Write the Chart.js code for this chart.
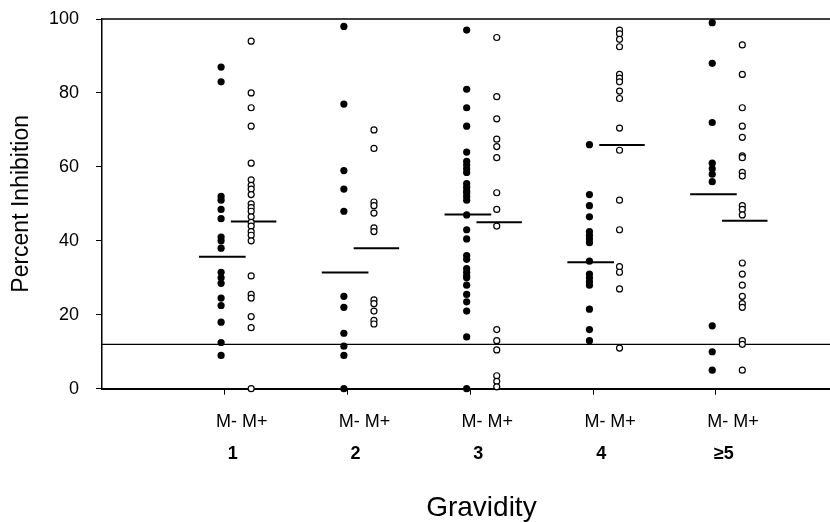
<!DOCTYPE html>
<html lang="en">
<head>
    <meta charset="UTF-8">
    <title>Percent Inhibition by Gravidity</title>
    <script src="https://cdn.jsdelivr.net/npm/chart.js"></script>
    <style>
        html, body {
            margin: 0;
            padding: 0;
            background: #fff;
            overflow: hidden;
        }
        #chart {
            display: block;
        }
    </style>
</head>
<body>
    <canvas id="chart" width="866" height="522"></canvas>

    <script>
        const gravidity = ['1', '2', '3', '4', '≥5'];
        const pairLabel = 'M- M+';

        // M- (filled) values per gravidity group
        const minus1 = [87, 83, 52, 51, 48.5, 46, 41, 40, 38, 31.5, 30, 28.5, 24.5, 22.5, 18, 12.5, 9];
        const minus2 = [98, 77, 59, 54, 48, 25, 22, 15, 11.5, 9, 0];
        const minus3 = [97, 81, 76, 71, 64, 61.5, 60.5, 59.5, 58.5, 55.5, 54.5, 53.5, 53, 52, 51, 47, 43, 40.5, 36, 35, 32.5, 31.5, 30.5, 30, 28, 25.5, 23.5, 21, 14, 0];
        const minus4 = [66, 52.5, 49.5, 46.5, 42.5, 41.5, 40.5, 39.5, 34.5, 31, 30, 29, 28, 21.5, 16, 13];
        const minus5 = [99, 88, 72, 61, 59.5, 58, 56, 17, 10, 5];

        // M+ (open) values per gravidity group
        const plus1 = [94, 80, 76, 71, 61, 56.5, 55, 54, 52.5, 50, 49, 48, 46.5, 45, 44, 42.5, 41.5, 40, 30.5, 25.5, 24.5, 19.5, 16.5, 0];
        const plus2 = [70, 65, 50.5, 49.5, 47.5, 43.5, 42.5, 24, 23, 21, 18.5, 17.5];
        const plus3 = [95, 79, 73, 67.5, 65.5, 62.5, 53, 48.5, 44, 16, 13, 10.5, 3.5, 2, 0.5];
        const plus4 = [97, 96, 94.5, 92.5, 85, 84, 83, 80.5, 78.5, 70.5, 64.5, 51, 43, 33, 31.5, 27, 11];
        const plus5 = [93, 85, 76, 71, 68, 63, 62.5, 58.5, 57.5, 49.5, 48.5, 47, 34, 31, 28, 25, 23, 22, 13, 12, 5];

        // group means (horizontal bars)
        const meanMinus = [35.7, 31.4, 47.1, 34.2, 52.6];
        const meanPlus = [45.2, 38.0, 45.0, 65.9, 45.4];

        const cutoff = 12;
        const topLine = 100;

        const minusGroups = [minus1, minus2, minus3, minus4, minus5];
        const plusGroups = [plus1, plus2, plus3, plus4, plus5];

        const FONT = 'Arial, "Liberation Sans", sans-serif';
        Chart.defaults.font.family = FONT;
        Chart.defaults.color = '#000';

        const xMax = 6.18;
        const minusShift = -0.03;
        const plusShift = 0.215;

        function toPoints(groups, shift) {
            const pts = [];
            groups.forEach((vals, i) => {
                vals.forEach(v => pts.push({ x: i + 1 + shift, y: v }));
            });
            return pts;
        }

        function segment(x0, x1, y, width) {
            return {
                type: 'line',
                data: [{ x: x0, y: y }, { x: x1, y: y }],
                borderColor: '#000',
                borderWidth: width,
                pointRadius: 0,
                fill: false,
                clip: false,
                xAxisID: 'x',
                yAxisID: 'y'
            };
        }

        const datasets = [
            {
                type: 'scatter',
                label: 'M-',
                data: toPoints(minusGroups, minusShift),
                pointRadius: 3.6,
                pointBackgroundColor: '#000',
                pointBorderColor: '#000',
                pointBorderWidth: 0,
                clip: false,
                xAxisID: 'x',
                yAxisID: 'y'
            },
            {
                type: 'scatter',
                label: 'M+',
                data: toPoints(plusGroups, plusShift),
                pointRadius: 3,
                pointBackgroundColor: '#fff',
                pointBorderColor: '#000',
                pointBorderWidth: 1.2,
                clip: false,
                xAxisID: 'x',
                yAxisID: 'y'
            }
        ];

        meanMinus.forEach((m, i) => datasets.push(segment(i + 1 - 0.21, i + 1 + 0.17, m, 2)));
        meanPlus.forEach((m, i) => datasets.push(segment(i + 1 + 0.05, i + 1 + 0.42, m, 2)));
        datasets.push(segment(0, xMax, topLine, 1.5));
        datasets.push(segment(0, xMax, cutoff, 1.3));

        const groupTicks = s => { s.ticks = gravidity.map((g, i) => ({ value: i + 1 })); };

        new Chart(document.getElementById('chart'), {
            type: 'scatter',
            data: { datasets: datasets },
            options: {
                responsive: false,
                animation: false,
                layout: { padding: { top: 19, right: 0, bottom: 0, left: 0 } },
                plugins: {
                    legend: { display: false },
                    tooltip: { enabled: false }
                },
                scales: {
                    x: {
                        type: 'linear',
                        position: 'bottom',
                        weight: 0,
                        min: 0,
                        max: xMax,
                        afterBuildTicks: groupTicks,
                        afterFit: s => { s.height = 45; },
                        grid: { drawOnChartArea: false, tickLength: 6, color: '#000', lineWidth: 1 },
                        border: { color: '#000', width: 2 },
                        ticks: {
                            callback: () => pairLabel,
                            font: { size: 18 },
                            padding: 16.5,
                            labelOffset: 17,
                            autoSkip: false,
                            maxRotation: 0
                        }
                    },
                    x2: {
                        type: 'linear',
                        position: 'bottom',
                        weight: 1,
                        min: 0,
                        max: xMax,
                        afterBuildTicks: groupTicks,
                        afterFit: s => { s.height = 88.3; },
                        grid: { display: false, drawTicks: false },
                        border: { display: false },
                        ticks: {
                            callback: (v, i) => gravidity[i],
                            font: { size: 18, weight: 'bold' },
                            padding: 9.5,
                            labelOffset: 8,
                            autoSkip: false,
                            maxRotation: 0
                        },
                        title: {
                            display: true,
                            text: 'Gravidity',
                            font: { size: 28, lineHeight: 1 },
                            padding: 0
                        }
                    },
                    y: {
                        min: 0,
                        max: 100,
                        afterFit: s => {
                            s.width = 102;
                            s.paddingTop = 0;
                            s.paddingBottom = 0;
                        },
                        ticks: { stepSize: 20, font: { size: 18 }, padding: 17 },
                        grid: { drawOnChartArea: false, tickLength: 6, color: '#000' },
                        border: { color: '#000', width: 1.5 },
                        title: {
                            display: true,
                            text: 'Percent Inhibition',
                            font: { size: 23 },
                            padding: { top: 8, bottom: 0 }
                        }
                    }
                }
            }
        });
    </script>
</body>
</html>
